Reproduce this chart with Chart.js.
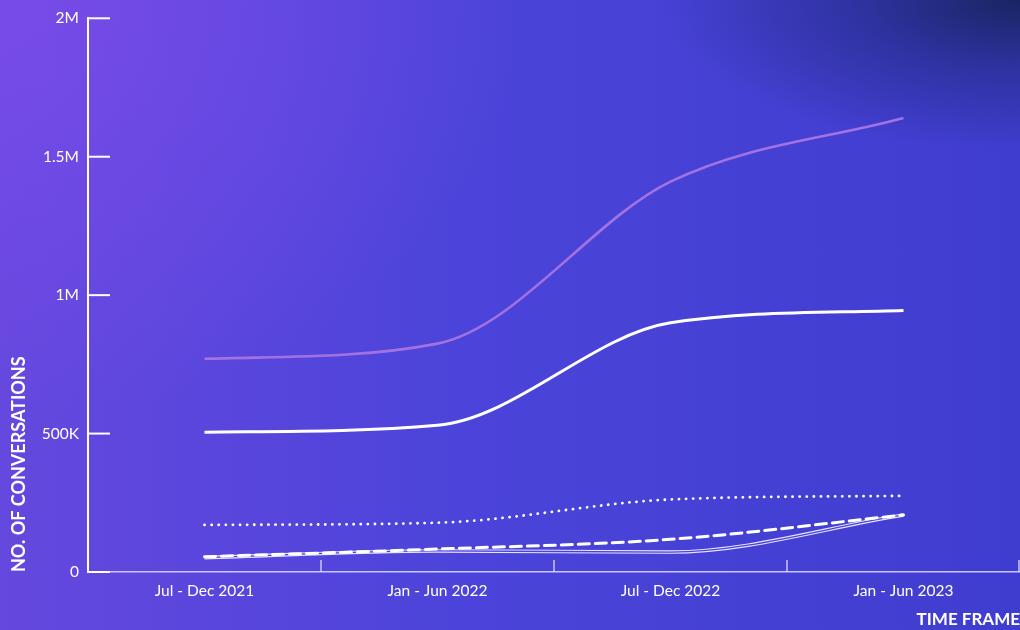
<!DOCTYPE html>
<html>
<head>
<meta charset="utf-8">
<script src="https://cdn.jsdelivr.net/npm/chart.js@4"></script>
<style>
    html, body {
        margin: 0;
        padding: 0;
        width: 1020px;
        height: 630px;
        overflow: hidden;
    }
    body {
        background:
            radial-gradient(ellipse 360px 150px at 100% 0%, rgba(22, 36, 92, 0.95) 0%, rgba(30, 40, 120, 0.55) 45%, rgba(40, 50, 180, 0) 100%),
            radial-gradient(ellipse 520px 420px at 0% 0%, rgba(125, 76, 235, 0.8) 0%, rgba(125, 76, 235, 0) 100%),
            linear-gradient(90deg, #6548de 0%, #4c44da 45%, #3f3dcf 100%);
    }
    canvas { display: block; }
</style>
</head>
<body>
<canvas id="lineChart" width="1020" height="630"></canvas>
<script>
const categories = ['Jul - Dec 2021', 'Jan - Jun 2022', 'Jul - Dec 2022', 'Jan - Jun 2023'];
const yTickLabels = ['0', '500K', '1M', '1.5M', '2M'];

const purpleSeries = [770000, 825000, 1410000, 1640000];
const whiteSeries = [505000, 530000, 900000, 945000];
const dottedSeries = [170000, 178000, 262000, 275000];
const dashedSeries = [55000, 83000, 118000, 206000];
const doubleSeries = [52000, 76000, 72000, 206000];

const innerBlue = '#4843d8';

// short tick marks drawn inside the plot area
const insideTicks = {
    id: 'insideTicks',
    beforeDatasetsDraw(chart) {
        const ctx = chart.ctx;
        const x = chart.scales.x;
        const y = chart.scales.y;
        const area = chart.chartArea;
        ctx.save();
        ctx.strokeStyle = '#ffffff';
        ctx.lineWidth = 2;
        y.ticks.forEach((t, i) => {
            let py = y.getPixelForTick(i);
            ctx.beginPath();
            ctx.moveTo(area.left, py);
            ctx.lineTo(area.left + 22, py);
            ctx.stroke();
        });
        ctx.strokeStyle = 'rgba(225, 220, 255, 0.85)';
        ctx.lineWidth = 1.5;
        for (let i = 0; i < categories.length; i++) {
            let px;
            if (i < categories.length - 1) {
                px = (x.getPixelForTick(i) + x.getPixelForTick(i + 1)) / 2;
            } else {
                px = area.right - 1;
            }
            ctx.beginPath();
            ctx.moveTo(px, area.bottom);
            ctx.lineTo(px, area.bottom - 12);
            ctx.stroke();
        }
        ctx.restore();
    }
};

function lineSet(data, color, width, dash) {
    return {
        data: data,
        borderColor: color,
        borderWidth: width,
        borderDash: dash || [],
        borderCapStyle: dash ? 'round' : 'butt',
        pointRadius: 0,
        fill: false,
        cubicInterpolationMode: 'monotone'
    };
}

const ctx = document.getElementById('lineChart').getContext('2d');

// chart.js paints the first dataset last, so the inner blue stroke comes before the white one
new Chart(ctx, {
    type: 'line',
    data: {
        labels: categories,
        datasets: [
            lineSet(purpleSeries, '#a272e2', 2.6),
            lineSet(whiteSeries, '#ffffff', 3),
            lineSet(dottedSeries, '#ffffff', 2.8, [0.1, 7]),
            lineSet(dashedSeries, '#ffffff', 3, [11, 6]),
            lineSet(doubleSeries, innerBlue, 1.3),
            lineSet(doubleSeries, '#e6e2ff', 3.6)
        ]
    },
    plugins: [insideTicks],
    options: {
        responsive: false,
        animation: false,
        devicePixelRatio: 1,
        layout: {
            padding: { top: 18, right: 0, left: 0, bottom: 0 }
        },
        plugins: {
            legend: { display: false },
            tooltip: { enabled: false }
        },
        scales: {
            x: {
                offset: true,
                grid: { display: false, drawTicks: false, offset: true },
                border: { display: true, color: 'rgba(225, 220, 255, 0.85)', width: 1.5 },
                ticks: {
                    color: '#ffffff',
                    padding: 10,
                    maxRotation: 0,
                    autoSkip: false,
                    font: { family: 'Lato', size: 15.5 }
                },
                title: {
                    display: true,
                    text: 'TIME FRAME',
                    align: 'end',
                    color: '#ffffff',
                    padding: { top: 6, bottom: 0 },
                    font: { family: 'Lato', size: 17, weight: 'bold' }
                },
                afterFit(scale) {
                    scale.height = 58;
                }
            },
            y: {
                min: 0,
                max: 2000000,
                grid: { display: false, drawTicks: false },
                border: { display: true, color: '#ffffff', width: 2 },
                ticks: {
                    stepSize: 500000,
                    color: '#ffffff',
                    padding: 9,
                    font: { family: 'Lato', size: 15.5 },
                    callback: (value, index) => yTickLabels[index]
                },
                title: {
                    display: true,
                    text: 'NO. OF CONVERSATIONS',
                    align: 'start',
                    color: '#ffffff',
                    padding: { top: 8, bottom: 0 },
                    font: { family: 'Lato', size: 18, weight: 'bold' }
                },
                afterFit(scale) {
                    scale.width = 88;
                }
            }
        }
    }
});
</script>
</body>
</html>
